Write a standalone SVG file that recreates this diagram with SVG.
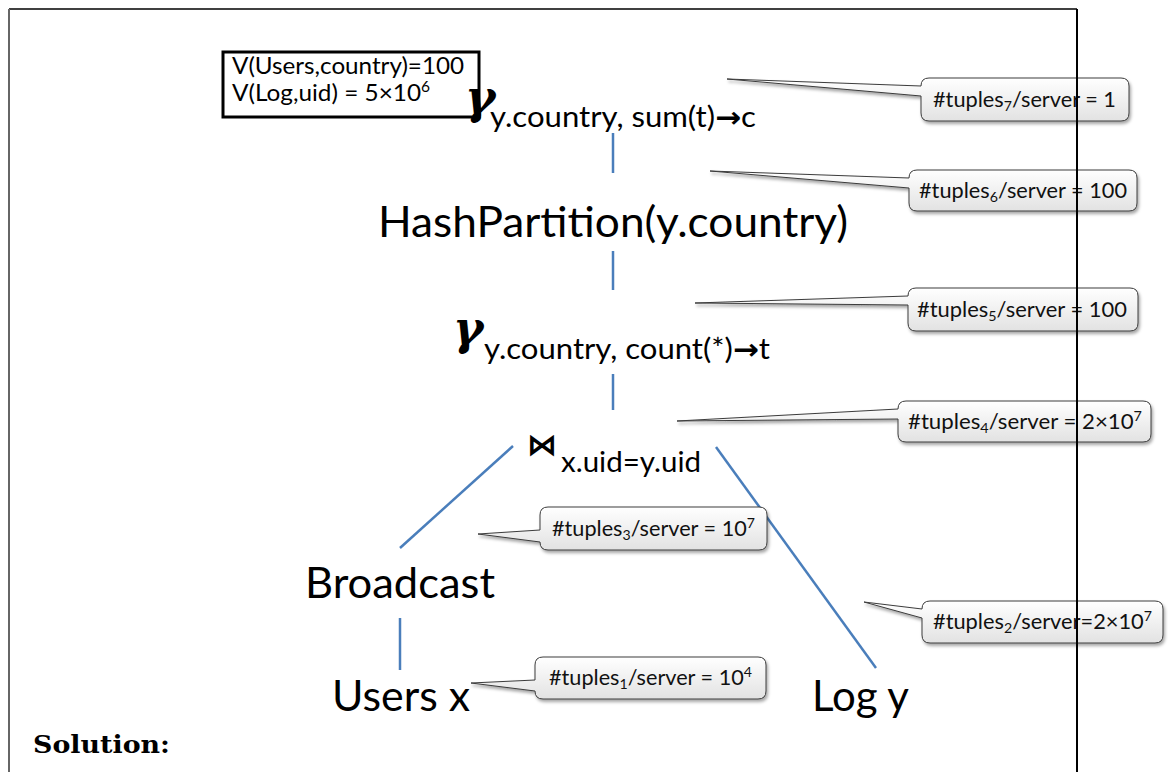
<svg xmlns="http://www.w3.org/2000/svg" width="1168" height="772" viewBox="0 0 1168 772">
  <style>
    .lbl { font-family: Lato, "Open Sans", "Liberation Sans", sans-serif; fill: #000; }
    .big { font-size: 42px; }
    .sub { font-size: 28.5px; }
    .info { font-size: 23.5px; }
    .arr { font-family: "DejaVu Sans", sans-serif; font-weight: bold; }
    .gam { font-family: "DejaVu Serif", "Liberation Serif", serif; font-weight: bold; font-style: italic; font-size: 46px; }
    .tip { font-family: Lato, "Open Sans", "Liberation Sans", sans-serif; font-size: 21.5px; fill: #111; }
    .tipbox { fill: url(#tipfill); stroke: #3c3c3c; stroke-width: 1; filter: url(#shadow); }
    .edge { stroke: #4a7ebb; stroke-width: 2.5; fill: none; }
  </style>
  <defs>
    <linearGradient id="tipfill" x1="0" y1="0" x2="0" y2="1">
      <stop offset="0" stop-color="#ffffff"/>
      <stop offset="1" stop-color="#e2e2e2"/>
    </linearGradient>
    <filter id="shadow" x="-10%" y="-20%" width="120%" height="150%">
      <feDropShadow dx="1.5" dy="2.5" stdDeviation="1.5" flood-color="#000" flood-opacity="0.35"/>
    </filter>
  </defs>

  <rect width="1168" height="772" fill="#fff"/>

  <!-- connectors of the plan tree -->
  <g id="connectors">
    <line class="edge" x1="613" y1="133" x2="613" y2="173"/>
    <line class="edge" x1="613" y1="251" x2="613" y2="290"/>
    <line class="edge" x1="613" y1="374" x2="613" y2="410"/>
    <line class="edge" x1="513" y1="446" x2="400" y2="548"/>
    <line class="edge" x1="716" y1="447" x2="876" y2="668"/>
    <line class="edge" x1="400" y1="618" x2="400" y2="670"/>
  </g>

  <!-- statistics box -->
  <g id="stats">
    <rect x="223" y="52" width="256" height="65" fill="#fff" stroke="#000" stroke-width="3"/>
    <text class="lbl info" x="232" y="74" textLength="232" lengthAdjust="spacingAndGlyphs">V(Users,country)=100</text>
    <text class="lbl info" x="232" y="101" textLength="198" lengthAdjust="spacingAndGlyphs">V(Log,uid) = 5×10<tspan font-size="15" dy="-9">6</tspan></text>
  </g>

  <!-- operators -->
  <g id="agg-final">
    <text class="gam" x="465" y="113">γ</text>
    <text class="lbl sub" x="490" y="127" textLength="266" lengthAdjust="spacingAndGlyphs">y.country, sum(t)<tspan class="arr">→</tspan>c</text>
  </g>

  <g id="hash-partition">
    <text class="lbl big" x="378" y="237" textLength="470" lengthAdjust="spacingAndGlyphs">HashPartition(y.country)</text>
  </g>

  <g id="agg-partial">
    <text class="gam" x="453" y="344">γ</text>
    <text class="lbl sub" x="484" y="359" textLength="286" lengthAdjust="spacingAndGlyphs">y.country, count(*)<tspan class="arr">→</tspan>t</text>
  </g>

  <g id="join">
    <text x="527" y="455" font-family="DejaVu Sans, sans-serif" font-size="30" font-weight="bold">⋈</text>
    <text class="lbl sub" x="561" y="472" textLength="140" lengthAdjust="spacingAndGlyphs">x.uid=y.uid</text>
  </g>

  <g id="broadcast">
    <text class="lbl big" x="305" y="598" textLength="190" lengthAdjust="spacingAndGlyphs">Broadcast</text>
  </g>

  <g id="users">
    <text class="lbl big" x="332" y="711" textLength="138" lengthAdjust="spacingAndGlyphs">Users x</text>
  </g>

  <g id="log">
    <text class="lbl big" x="812" y="711">Log y</text>
  </g>

  <!-- cardinality callouts -->
  <g id="callout7">
    <path class="tipbox" d="M929,78 H1121 Q1129,78 1129,86 V113 Q1129,121 1121,121 H929 Q921,121 921,113 V96 L727,79 L921,86 Q921,78 929,78 Z"/>
    <text class="tip" x="933" y="107" textLength="183" lengthAdjust="spacingAndGlyphs">#tuples<tspan font-size="14" dy="4">7</tspan><tspan dy="-4">/server = 1</tspan></text>
  </g>
  <g id="callout6">
    <path class="tipbox" d="M917,170 H1129 Q1137,170 1137,178 V203 Q1137,211 1129,211 H917 Q909,211 909,203 V188 L710,171 L909,178 Q909,170 917,170 Z"/>
    <text class="tip" x="919" y="198" textLength="208" lengthAdjust="spacingAndGlyphs">#tuples<tspan font-size="14" dy="4">6</tspan><tspan dy="-4">/server = 100</tspan></text>
  </g>
  <g id="callout5">
    <path class="tipbox" d="M916,288 H1130 Q1138,288 1138,296 V323 Q1138,331 1130,331 H916 Q908,331 908,323 V305 L695,303 L908,296 Q908,288 916,288 Z"/>
    <text class="tip" x="917" y="317" textLength="210" lengthAdjust="spacingAndGlyphs">#tuples<tspan font-size="14" dy="4">5</tspan><tspan dy="-4">/server = 100</tspan></text>
  </g>
  <g id="callout4">
    <path class="tipbox" d="M906,401 H1143 Q1151,401 1151,409 V434 Q1151,442 1143,442 H906 Q898,442 898,434 V419 L677,421 L898,409 Q898,401 906,401 Z"/>
    <text class="tip" x="908" y="429" textLength="234" lengthAdjust="spacingAndGlyphs">#tuples<tspan font-size="14" dy="4">4</tspan><tspan dy="-4">/server = 2×10</tspan><tspan font-size="14" dy="-8">7</tspan></text>
  </g>
  <g id="callout3">
    <path class="tipbox" d="M548,507 H759 Q767,507 767,515 V542 Q767,550 759,550 H548 Q540,550 540,542 L478,534 L540,530 V515 Q540,507 548,507 Z"/>
    <text class="tip" x="552" y="536" textLength="203" lengthAdjust="spacingAndGlyphs">#tuples<tspan font-size="14" dy="4">3</tspan><tspan dy="-4">/server = 10</tspan><tspan font-size="14" dy="-8">7</tspan></text>
  </g>
  <g id="callout2">
    <path class="tipbox" d="M930,601 H1155 Q1163,601 1163,609 V635 Q1163,643 1155,643 H930 Q922,643 922,635 V618 L864,602 L922,609 Q922,601 930,601 Z"/>
    <text class="tip" x="933" y="629" textLength="219" lengthAdjust="spacingAndGlyphs">#tuples<tspan font-size="14" dy="4">2</tspan><tspan dy="-4">/server=2×10</tspan><tspan font-size="14" dy="-8">7</tspan></text>
  </g>
  <g id="callout1">
    <path class="tipbox" d="M543,657 H758 Q766,657 766,665 V691 Q766,699 758,699 H543 Q535,699 535,691 L471,683 L535,680 V665 Q535,657 543,657 Z"/>
    <text class="tip" x="549" y="685" textLength="203" lengthAdjust="spacingAndGlyphs">#tuples<tspan font-size="14" dy="4">1</tspan><tspan dy="-4">/server = 10</tspan><tspan font-size="14" dy="-8">4</tspan></text>
  </g>

  <!-- page frame and caption -->
  <g id="frame">
    <line x1="9" y1="9" x2="1077" y2="9" stroke="#000" stroke-width="1.5"/>
    <line x1="9" y1="9" x2="9" y2="772" stroke="#666" stroke-width="2"/>
    <line x1="1077" y1="9" x2="1077" y2="772" stroke="#000" stroke-width="2"/>
  </g>
  <g id="caption">
    <text x="33" y="753" font-family="DejaVu Serif, serif" font-weight="bold" font-size="24" textLength="137" lengthAdjust="spacingAndGlyphs">Solution:</text>
  </g>
</svg>
